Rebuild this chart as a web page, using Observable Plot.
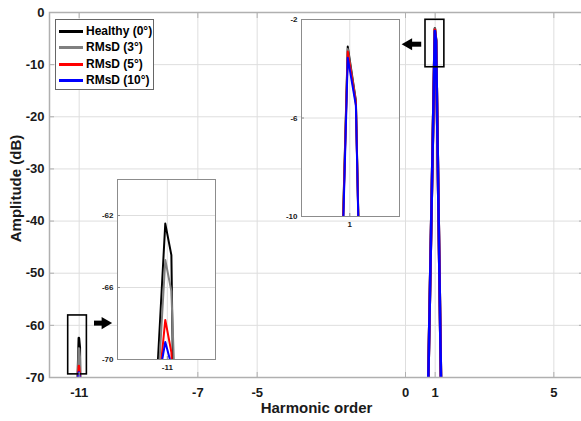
<!DOCTYPE html>
<html><head><meta charset="utf-8">
<script src="https://cdn.jsdelivr.net/npm/d3@7"></script>
<script src="https://cdn.jsdelivr.net/npm/@observablehq/plot@0.6"></script>
<style>
body{margin:0;background:#fff;font-family:"Liberation Sans",Arial,sans-serif;}
#wrap{position:relative;width:581px;height:421px;overflow:hidden;background:#fff;}
#wrap svg{position:absolute;overflow:visible;}
.legend{position:absolute;left:55px;top:19px;width:99px;height:71px;border:1px solid #666;background:#fff;box-sizing:border-box;font-weight:bold;font-size:12px;color:#000;}
.legend .row{position:absolute;left:0;height:16px;line-height:16px;white-space:nowrap;}
.legend .sw{position:absolute;left:3px;top:7px;width:24px;height:3px;}
.legend .tx{position:absolute;left:30px;top:0;}
</style>
</head><body>
<div id="wrap"></div>
<script>
// ---- data ----
const seriesNames = ["Healthy (0°)", "RMsD (3°)", "RMsD (5°)", "RMsD (10°)"];
const seriesColors = ["#000000", "#808080", "#ff0000", "#0000ff"];
// cluster around harmonic -11
const orderNeg11 = [-11.25, -11.01, -10.98, -10.79];
const ampNeg11Healthy = [-112.8, -62.45, -64.2, -221];
const ampNeg11Rmsd3 = [-111.9, -64.47, -66.2, -126.4];
const ampNeg11Rmsd5 = [-95.6, -67.8, -69.6, -120];
const ampNeg11Rmsd10 = [-84.6, -69.03, -70.3, -120];
// cluster around the fundamental (harmonic 1)
const orderFund = [0.75, 0.99, 1.03, 1.21];
const ampFundHealthy = [-76, -3.1, -5.3, -76];
const ampFundRmsd3 = [-76, -3.2, -5.35, -76];
const ampFundRmsd5 = [-76, -3.3, -5.4, -76];
const ampFundRmsd10 = [-76, -3.55, -5.5, -76];
// ticks
const xTicks = [-11, -7, -5, 0, 1, 5];
const yTicks = [0, -10, -20, -30, -40, -50, -60, -70];
const insetNegXTicks = [-11];
const insetNegYTicks = [-62, -66, -70];
const insetFundXTicks = [1];
const insetFundYTicks = [-2, -6, -10];
// annotations (zoom boxes and arrows, in data units)
const zoomBoxes = [
  {x1: -11.37, x2: -10.74, y1: -69.4, y2: -58.1},
  {x1: 0.674, x2: 1.31, y1: -10.5, y2: -1.4}
];
const arrowBodies = [
  {x1: -10.5, x2: -10.1, y: -59.57},
  {x1: 0.53, x2: 0.09, y: -6.08}
];
const arrowHeads = [
  {x: -10.125, y: -59.57, angle: 90},
  {x: 0.105, y: -6.08, angle: -90}
];

// ---- build table ----
const negAmps = [ampNeg11Healthy, ampNeg11Rmsd3, ampNeg11Rmsd5, ampNeg11Rmsd10];
const fundAmps = [ampFundHealthy, ampFundRmsd3, ampFundRmsd5, ampFundRmsd10];
const rows = [];
seriesNames.forEach((s, i) => {
  orderNeg11.forEach((o, j) => rows.push({series: s, key: s + "|neg", cluster: "neg", order: o, amp: negAmps[i][j]}));
  orderFund.forEach((o, j) => rows.push({series: s, key: s + "|fund", cluster: "fund", order: o, amp: fundAmps[i][j]}));
});

const FONT = '"Liberation Sans", Arial, sans-serif';
const GRID = "#dedede";
const AX = "#b0b0b0";
const TXT = "#1a1a1a";
const color = {domain: seriesNames, range: seriesColors};

const main = Plot.plot({
  width: 581, height: 421,
  marginLeft: 49, marginRight: -2, marginTop: 12, marginBottom: 44,
  x: {domain: [-12, 6], label: null},
  y: {domain: [-70, 0], label: null},
  color,
  style: {fontFamily: FONT, fontWeight: "bold", fontSize: "13px", color: TXT, background: "transparent", overflow: "visible"},
  marks: [
    Plot.gridX(xTicks, {stroke: GRID, strokeOpacity: 1}),
    Plot.gridY(yTicks, {stroke: GRID, strokeOpacity: 1}),
    Plot.line(rows, {x: "order", y: "amp", stroke: "series", z: "key", strokeWidth: 2.6, clip: true}),
    Plot.rect(zoomBoxes, {x1: "x1", x2: "x2", y1: "y1", y2: "y2", fill: "none", stroke: "black", strokeWidth: 1.6}),
    Plot.link(arrowBodies, {x1: "x1", x2: "x2", y1: "y", y2: "y", stroke: "black", strokeWidth: 5, strokeLinecap: "butt"}),
    Plot.dot(arrowHeads, {x: "x", y: "y", symbol: "triangle", rotate: "angle", r: 4.5, fill: "black", stroke: "none"}),
    Plot.frame({stroke: AX, strokeWidth: 1.5}),
    Plot.axisX(xTicks, {anchor: "bottom", tickSize: -5, stroke: AX, tickFormat: () => "", label: null}),
    Plot.axisX(xTicks, {anchor: "top", tickSize: -5, stroke: AX, tickFormat: () => "", label: null}),
    Plot.axisX(xTicks, {anchor: "bottom", tickSize: 0, tickPadding: 10, tickFormat: d => String(d), label: null, fill: TXT}),
    Plot.axisY(yTicks, {anchor: "left", tickSize: -5, stroke: AX, tickFormat: () => "", label: null}),
    Plot.axisY(yTicks, {anchor: "right", tickSize: -5, stroke: AX, tickFormat: () => "", label: null}),
    Plot.axisY(yTicks, {anchor: "left", tickSize: 0, tickPadding: 5, tickFormat: d => String(d), label: null, fill: TXT}),
    Plot.text(["Harmonic order"], {frameAnchor: "bottom", dy: 35, fontSize: 15, fontWeight: "bold", fill: TXT}),
    Plot.text(["Amplitude (dB)"], {frameAnchor: "left", textAnchor: "middle", dx: -33, dy: -6.5, rotate: -90, fontSize: 15, fontWeight: "bold", fill: TXT})
  ]
});

function insetPlot(cluster, xDomain, yDomain, xt, yt) {
  return Plot.plot({
    width: 130, height: cluster === "neg" ? 198 : 215,
    marginLeft: 30, marginRight: 2, marginTop: 2, marginBottom: 16,
    x: {domain: xDomain, label: null},
    y: {domain: yDomain, label: null},
    color,
    style: {fontFamily: FONT, fontWeight: "bold", fontSize: "8px", color: TXT, background: "transparent", overflow: "visible"},
    marks: [
      Plot.frame({fill: "white", stroke: "none"}),
      Plot.gridX(xt, {stroke: GRID, strokeOpacity: 1}),
      Plot.gridY(yt, {stroke: GRID, strokeOpacity: 1}),
      Plot.line(rows.filter(d => d.cluster === cluster), {x: "order", y: "amp", stroke: "series", z: "key", strokeWidth: 2, clip: true}),
      Plot.frame({stroke: "#8c8c8c", strokeWidth: 1}),
      Plot.axisX(xt, {anchor: "bottom", tickSize: -3, stroke: "#8c8c8c", tickFormat: () => "", label: null}),
      Plot.axisX(xt, {anchor: "bottom", tickSize: 0, tickPadding: 5, tickFormat: d => String(d), label: null, fill: TXT}),
      Plot.axisY(yt, {anchor: "left", tickSize: -3, stroke: "#8c8c8c", tickFormat: () => "", label: null}),
      Plot.axisY(yt, {anchor: "left", tickSize: 0, tickPadding: 4, tickFormat: d => String(d), label: null, fill: TXT})
    ]
  });
}

const insetNeg = insetPlot("neg", [-11.245, -10.763], [-70, -60], insetNegXTicks, insetNegYTicks);
const insetFund = insetPlot("fund", [0.763, 1.244], [-10, -2], insetFundXTicks, insetFundYTicks);

const wrap = document.getElementById("wrap");
main.style.left = "0px"; main.style.top = "0px";
wrap.appendChild(main);
insetNeg.style.left = "87px"; insetNeg.style.top = "177px";
wrap.appendChild(insetNeg);
insetFund.style.left = "271px"; insetFund.style.top = "17px";
wrap.appendChild(insetFund);

// legend
const leg = document.createElement("div");
leg.className = "legend";
seriesNames.forEach((s, i) => {
  const r = document.createElement("div");
  r.className = "row";
  r.style.top = (3 + i * 16.3) + "px";
  const sw = document.createElement("div");
  sw.className = "sw"; sw.style.background = seriesColors[i];
  const tx = document.createElement("div");
  tx.className = "tx"; tx.textContent = s;
  r.appendChild(sw); r.appendChild(tx);
  leg.appendChild(r);
});
wrap.appendChild(leg);
</script>
</body></html>
